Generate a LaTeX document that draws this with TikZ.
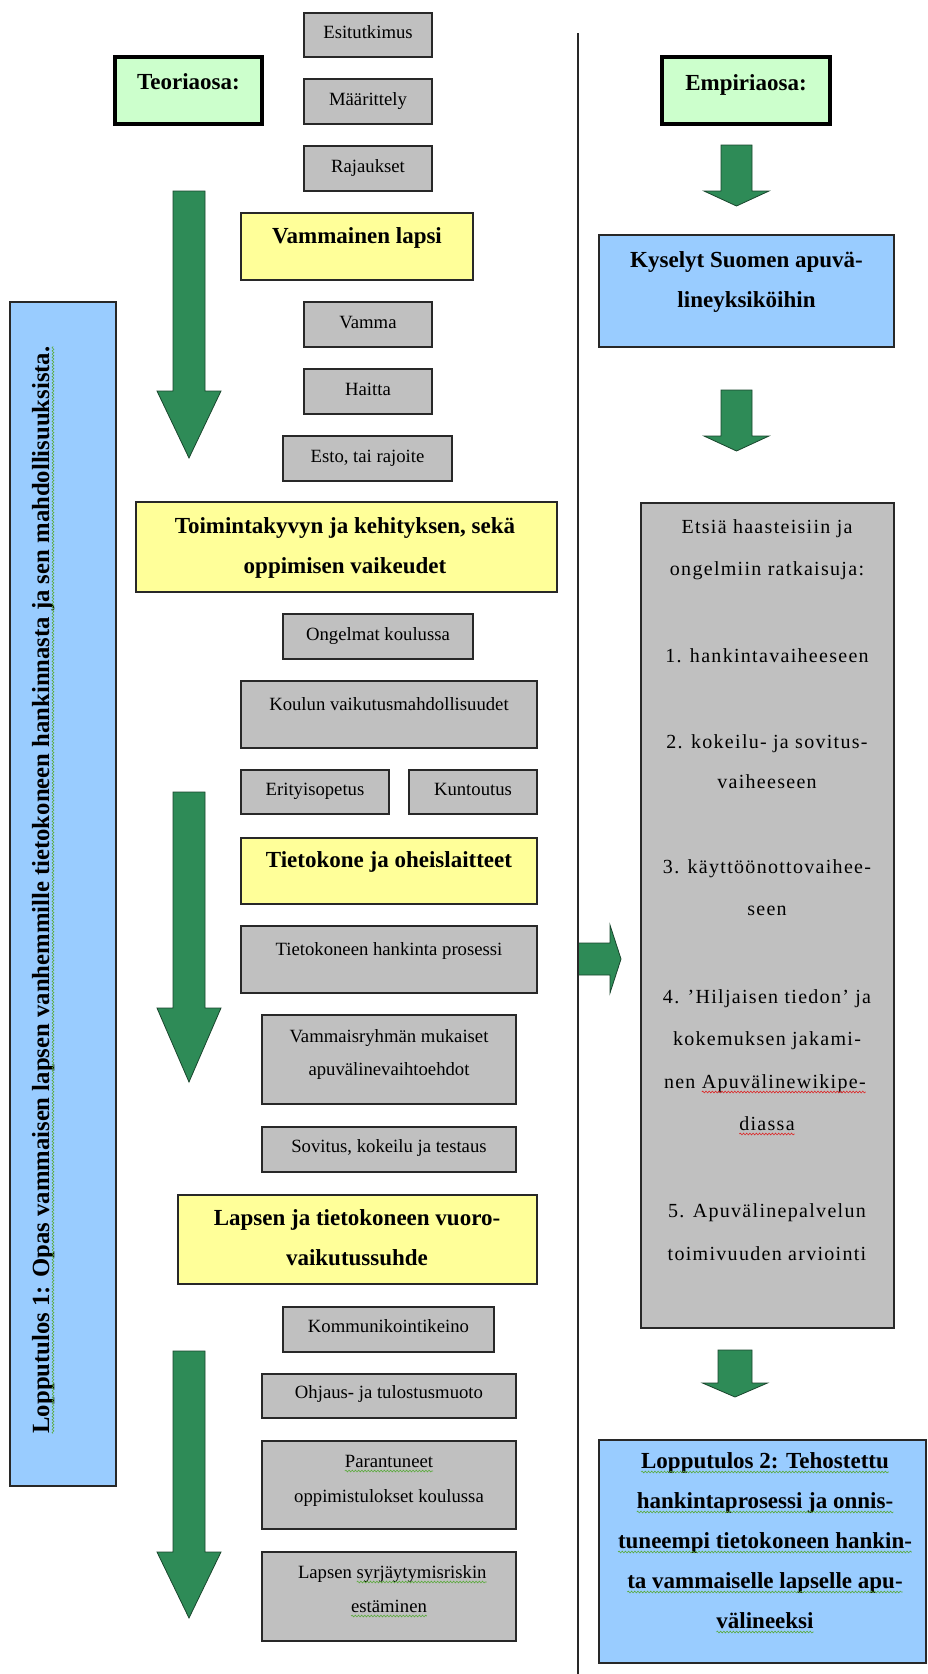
\documentclass[tikz,border=0pt]{standalone}
\usepackage{fontspec}
\setmainfont{Liberation Serif}
\newfontfamily\spacedserif[LetterSpace=6.5]{Liberation Serif}
\usetikzlibrary{fit,decorations.pathmorphing}

\definecolor{boxgray}{RGB}{192,192,192}
\definecolor{boxyellow}{RGB}{255,255,153}
\definecolor{boxblue}{RGB}{153,204,255}
\definecolor{boxgreen}{RGB}{204,255,204}
\definecolor{arrowgreen}{RGB}{46,139,87}
\definecolor{arrowedge}{RGB}{25,70,45}
\definecolor{edgegray}{RGB}{40,40,40}
\definecolor{wavegreen}{RGB}{90,170,60}
\definecolor{wavered}{RGB}{220,40,40}

\tikzset{
  frame/.style={draw=edgegray, line width=1.4pt, inner sep=0pt, outer sep=0pt},
  graybox/.style={frame, fill=boxgray},
  yellowbox/.style={frame, fill=boxyellow},
  bluebox/.style={frame, fill=boxblue},
  headbox/.style={frame, draw=black, line width=4pt, fill=boxgreen},
  txt/.style={inner sep=0pt, outer sep=0pt, anchor=base},
  plain/.style={txt, font=\fontsize{18.7}{22}\selectfont},
  heading/.style={txt, font=\fontsize{23}{28}\selectfont\bfseries},
  listtext/.style={txt, font=\spacedserif\fontsize{20}{24}\selectfont},
  blockarrow/.style={fill=arrowgreen, draw=arrowedge, line width=0.8pt, line join=miter},
  wavy/.style={decorate, decoration={snake, amplitude=0.9pt, segment length=3.2pt}, line width=0.6pt},
}

% box from corner (#3,#4) to corner (#5,#6), named #1, style #2
\newcommand\panel[6]{\node[#2, fit={(#3,#4) (#5,#6)}] (#1) {};}
% downward block arrow: centre x, top, head start, tip, half shaft, half head
\newcommand\downblock[6]{%
  \filldraw[blockarrow] ({#1-#5},#2) -- ({#1+#5},#2) -- ({#1+#5},#3) -- ({#1+#6},#3)
    -- (#1,#4) -- ({#1-#6},#3) -- ({#1-#5},#3) -- cycle;}
% wavy underline below a text node
\newcommand\squiggle[2]{\draw[wavy,#1] ([yshift=-4pt]#2.base west) -- ([yshift=-4pt]#2.base east);}

\begin{document}
\begin{tikzpicture}[x=1pt, y=-1pt]
\useasboundingbox (0,0) rectangle (928,1674);
\fill[white] (0,0) rectangle (928,1674);

% ---------- left column: theory part ----------
\panel{teo}{headbox}{115}{57}{262}{124}
\node[heading] (teoT) at (188.5,89) {Teoriaosa:};

\panel{esi}{graybox}{304}{13}{432}{57}
\node[plain] (esiT) at (368,38) {Esitutkimus};
\panel{maa}{graybox}{304}{79}{432}{124}
\node[plain] (maaT) at (368,105) {Määrittely};
\panel{raj}{graybox}{304}{146}{432}{191}
\node[plain] (rajT) at (368,172) {Rajaukset};

\panel{vam}{yellowbox}{241}{213}{473}{280}
\node[heading] (vamT) at (357,243) {Vammainen lapsi};

\panel{vamma}{graybox}{304}{302}{432}{347}
\node[plain] (vammaT) at (368,328) {Vamma};
\panel{hai}{graybox}{304}{369}{432}{414}
\node[plain] (haiT) at (368,395) {Haitta};
\panel{est}{graybox}{283}{436}{452}{481}
\node[plain] (estT) at (367.5,462) {Esto, tai rajoite};

\panel{toi}{yellowbox}{136}{502}{557}{592}
\node[heading] (toiT1) at (345,533) {Toimintakyvyn ja kehityksen, sekä};
\node[heading] (toiT2) at (345,573) {oppimisen vaikeudet};

\panel{ong}{graybox}{283}{614}{473}{659}
\node[plain] (ongT) at (378,640) {Ongelmat koulussa};
\panel{kou}{graybox}{241}{681}{537}{748}
\node[plain] (kouT) at (389,710) {Koulun vaikutusmahdollisuudet};
\panel{eri}{graybox}{241}{770}{389}{814}
\node[plain] (eriT) at (315,795) {Erityisopetus};
\panel{kun}{graybox}{409}{770}{537}{814}
\node[plain] (kunT) at (473,795) {Kuntoutus};

\panel{tie}{yellowbox}{241}{838}{537}{904}
\node[heading] (tieT) at (389,867) {Tietokone ja oheislaitteet};

\panel{han}{graybox}{241}{926}{537}{993}
\node[plain] (hanT) at (389,955) {Tietokoneen hankinta prosessi};
\panel{ryh}{graybox}{262}{1015}{516}{1104}
\node[plain] (ryhT1) at (389,1042) {Vammaisryhmän mukaiset};
\node[plain] (ryhT2) at (389,1075) {apuvälinevaihtoehdot};
\panel{sov}{graybox}{262}{1127}{516}{1172}
\node[plain] (sovT) at (389,1152) {Sovitus, kokeilu ja testaus};

\panel{vuo}{yellowbox}{178}{1195}{537}{1284}
\node[heading] (vuoT1) at (357,1225) {Lapsen ja tietokoneen vuoro-};
\node[heading] (vuoT2) at (357,1265) {vaikutussuhde};

\panel{kom}{graybox}{283}{1307}{494}{1352}
\node[plain] (komT) at (388.5,1332) {Kommunikointikeino};
\panel{ohj}{graybox}{262}{1374}{516}{1418}
\node[plain] (ohjT) at (389,1398) {Ohjaus- ja tulostusmuoto};
\panel{par}{graybox}{262}{1441}{516}{1529}
\node[plain] (parT1) at (389,1467) {Parantuneet};
\node[plain] (parT2) at (389,1502) {oppimistulokset koulussa};
\panel{syr}{graybox}{262}{1552}{516}{1641}
\node[plain, anchor=base west] (syrT1a) at (298,1578) {Lapsen};
\node[plain, anchor=base west] (syrT1b) at ([xshift=4.7pt]syrT1a.base east) {syrjäytymisriskin};
\node[plain] (syrT2) at (389,1612) {estäminen};

\squiggle{wavegreen}{parT1}
\squiggle{wavegreen}{syrT1b}
\squiggle{wavegreen}{syrT2}

% result 1, rotated text
\panel{lop1}{bluebox}{10}{302}{116}{1486}
\node[txt, rotate=90, font=\fontsize{24.7}{30}\selectfont\bfseries] (lop1T) at (49,890)
  {Lopputulos 1: Opas vammaisen lapsen vanhemmille tietokoneen hankinnasta ja sen mahdollisuuksista.};
\draw[wavy, wavegreen] ([xshift=4pt]lop1T.base west) -- ([xshift=4pt]lop1T.base east);

% big downward arrows
\downblock{189}{191}{391}{458}{16}{32}
\downblock{189}{792}{1008}{1082}{16}{32}
\downblock{189}{1351}{1552}{1618}{16}{32}

% ---------- right column: empirical part ----------
\panel{emp}{headbox}{662}{57}{830}{124}
\node[heading] (empT) at (746,90) {Empiriaosa:};

\downblock{736.5}{145}{191}{206}{15.5}{32.5}

\panel{kys}{bluebox}{599}{235}{894}{347}
\node[heading] (kysT1) at (746.5,267) {Kyselyt Suomen apuvä-};
\node[heading] (kysT2) at (746.5,307) {lineyksiköihin};

\downblock{736.5}{390}{436}{451}{15.5}{32.5}

\panel{ets}{graybox}{641}{503}{894}{1328}
\node[listtext] (etsT1) at (767,533) {Etsiä haasteisiin ja};
\node[listtext] (etsT2) at (767,575) {ongelmiin ratkaisuja:};
\node[listtext] (etsT3) at (767,662) {1. hankintavaiheeseen};
\node[listtext] (etsT4) at (767,748) {2. kokeilu- ja sovitus-};
\node[listtext] (etsT5) at (767,788) {vaiheeseen};
\node[listtext] (etsT6) at (767,873) {3. käyttöönottovaihee-};
\node[listtext] (etsT7) at (767,915) {seen};
\node[listtext] (etsT8) at (767,1003) {4. ’Hiljaisen tiedon’ ja};
\node[listtext] (etsT9) at (767,1045) {kokemuksen jakami-};
\node[listtext, anchor=base west] (etsT10a) at (664,1088) {nen};
\node[listtext, anchor=base west] (etsT10b) at ([xshift=6.3pt]etsT10a.base east) {Apuvälinewikipe-};
\node[listtext] (etsT11) at (767,1130) {diassa};
\node[listtext] (etsT12) at (767,1217) {5. Apuvälinepalvelun};
\node[listtext] (etsT13) at (767,1260) {toimivuuden arviointi};
\squiggle{wavered}{etsT10b}
\squiggle{wavered}{etsT11}

\downblock{735}{1350}{1383}{1397}{17}{32.5}

\panel{lop2}{bluebox}{599}{1440}{926}{1663}
\node[heading] (lop2T1) at (765,1468) {Lopputulos 2: Tehostettu};
\node[heading] (lop2T2) at (765,1508) {hankintaprosessi ja onnis-};
\node[heading] (lop2T3) at (765,1548) {tuneempi tietokoneen hankin-};
\node[heading] (lop2T4) at (765,1588) {ta vammaiselle lapselle apu-};
\node[heading] (lop2T5) at (765,1628) {välineeksi};
\foreach \n in {lop2T1,lop2T2,lop2T3,lop2T4,lop2T5}{\squiggle{wavegreen}{\n}}

% arrow pointing from the dividing line into the solution box
\filldraw[blockarrow] (578,943) -- (610,943) -- (610,925) -- (621,959) -- (610,993)
  -- (610,975) -- (578,975) -- cycle;

% dividing line between the two parts
\draw[line width=1.3pt, edgegray] (578,33) -- (578,1674);
\end{tikzpicture}
\end{document}
